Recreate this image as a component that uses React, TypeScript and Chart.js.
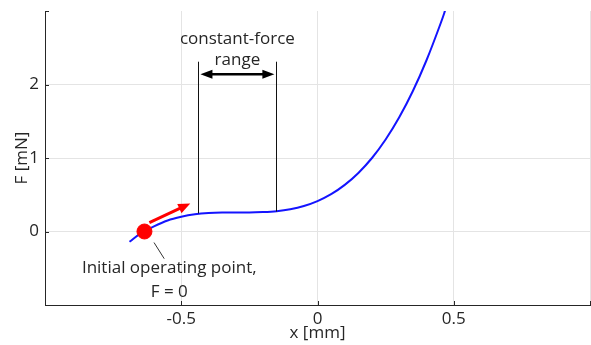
import React, { useEffect, useRef } from "react";
import { Chart, registerables } from "chart.js";

Chart.register(...registerables);

const curveX = [-0.69, -0.65, -0.6, -0.55, -0.5, -0.45, -0.4, -0.35, -0.3, -0.25, -0.2, -0.15, -0.1, -0.05, 0, 0.05, 0.1, 0.15, 0.2, 0.25, 0.3, 0.35, 0.4, 0.45, 0.465, 0.47];
const curveF = [-0.14, -0.03, 0.07, 0.15, 0.2, 0.234, 0.252, 0.259, 0.26, 0.26, 0.265, 0.277, 0.303, 0.347, 0.414, 0.508, 0.634, 0.797, 1.0, 1.252, 1.554, 1.911, 2.33, 2.813, 2.97, 3.03];

const operatingPoint = { x: -0.635, y: 0 };
const rangeStart = -0.437;
const rangeEnd = -0.151;
const rangeStartF = 0.245;
const rangeEndF = 0.272;
const rangeTopF = 2.31;
const rangeArrowF = 2.14;
const rangeLabel = ["constant-force", "range"];
const rangeLabelF = [2.62, 2.33];
const pointLabel = ["Initial operating point,", "F = 0"];
const pointLabelX = -0.544;
const pointLabelF = [-0.5, -0.82];
const leader = { x1: -0.6, y1: -0.15, x2: -0.5625, y2: -0.37 };
const redArrow = { x1: -0.617, y1: 0.12, x2: -0.467, y2: 0.38 };

const xTicks = [-1, -0.5, 0, 0.5, 1];
const yTicks = [-1, 0, 1, 2, 3];
const xTitle = "x [mm]";
const yTitle = "F [mN]";

const FONT = "'Open Sans', 'Noto Sans', sans-serif";
const TEXT = "#262626";
const FS = 17;

function arrowHead(ctx: CanvasRenderingContext2D, x1: number, y1: number, x2: number, y2: number, len: number, wid: number, color: string) {
  const a = Math.atan2(y2 - y1, x2 - x1);
  ctx.save();
  ctx.fillStyle = color;
  ctx.beginPath();
  ctx.moveTo(x2, y2);
  ctx.lineTo(x2 - len * Math.cos(a) + wid * Math.sin(a), y2 - len * Math.sin(a) - wid * Math.cos(a));
  ctx.lineTo(x2 - len * Math.cos(a) - wid * Math.sin(a), y2 - len * Math.sin(a) + wid * Math.cos(a));
  ctx.closePath();
  ctx.fill();
  ctx.restore();
}

const annotPlugin = {
  id: "annot",
  afterDraw(chart: any) {
    const ctx: CanvasRenderingContext2D = chart.ctx;
    const xs = chart.scales.x;
    const ys = chart.scales.y;
    const ca = chart.chartArea;
    const px = (v: number) => xs.getPixelForValue(v);
    const py = (v: number) => ys.getPixelForValue(v);
    ctx.save();
    ctx.strokeStyle = TEXT;
    ctx.lineWidth = 1;
    xTicks.forEach((t) => {
      const x = Math.round(px(t)) + 0.5;
      ctx.beginPath();
      ctx.moveTo(x, ca.bottom);
      ctx.lineTo(x, ca.bottom - 4);
      ctx.stroke();
    });
    yTicks.forEach((t) => {
      const y = Math.round(py(t)) + 0.5;
      ctx.beginPath();
      ctx.moveTo(ca.left, y);
      ctx.lineTo(ca.left + 4, y);
      ctx.stroke();
    });
    ctx.strokeStyle = "#111";
    ctx.lineWidth = 1;
    [[rangeStart, rangeStartF], [rangeEnd, rangeEndF]].forEach(([xv, fv]) => {
      const x = Math.round(px(xv)) + 0.5;
      ctx.beginPath();
      ctx.moveTo(x, py(fv));
      ctx.lineTo(x, py(rangeTopF));
      ctx.stroke();
    });
    const ay = py(rangeArrowF);
    const ax1 = px(rangeStart) + 2;
    const ax2 = px(rangeEnd) - 2;
    ctx.strokeStyle = "#000";
    ctx.lineWidth = 2.5;
    ctx.beginPath();
    ctx.moveTo(ax1 + 8, ay);
    ctx.lineTo(ax2 - 8, ay);
    ctx.stroke();
    arrowHead(ctx, ax2, ay, ax1, ay, 12, 4.5, "#000");
    arrowHead(ctx, ax1, ay, ax2, ay, 12, 4.5, "#000");
    ctx.fillStyle = TEXT;
    ctx.font = `${FS}px ${FONT}`;
    ctx.textAlign = "center";
    ctx.textBaseline = "middle";
    const cx = (px(rangeStart) + px(rangeEnd)) / 2;
    rangeLabel.forEach((s, i) => ctx.fillText(s, cx, py(rangeLabelF[i])));
    const rx1 = px(redArrow.x1), ry1 = py(redArrow.y1), rx2 = px(redArrow.x2), ry2 = py(redArrow.y2);
    const ang = Math.atan2(ry2 - ry1, rx2 - rx1);
    ctx.strokeStyle = "#ff0000";
    ctx.lineWidth = 3;
    ctx.beginPath();
    ctx.moveTo(rx1, ry1);
    ctx.lineTo(rx2 - 8 * Math.cos(ang), ry2 - 8 * Math.sin(ang));
    ctx.stroke();
    arrowHead(ctx, rx1, ry1, rx2, ry2, 12, 5, "#ff0000");
    ctx.strokeStyle = "#333";
    ctx.lineWidth = 1;
    ctx.beginPath();
    ctx.moveTo(px(leader.x1), py(leader.y1));
    ctx.lineTo(px(leader.x2), py(leader.y2));
    ctx.stroke();
    ctx.fillStyle = TEXT;
    pointLabel.forEach((s, i) => ctx.fillText(s, px(pointLabelX), py(pointLabelF[i])));
    ctx.fillText(xTitle, (ca.left + ca.right) / 2, 333);
    ctx.translate(22, (ca.top + ca.bottom) / 2);
    ctx.rotate(-Math.PI / 2);
    ctx.fillText(yTitle, 0, 0);
    ctx.restore();
  },
};

export default function App() {
  const ref = useRef<HTMLCanvasElement | null>(null);
  useEffect(() => {
    if (!ref.current) return;
    const curve = curveX.map((x, i) => ({ x, y: curveF[i] }));
    const chart = new Chart(ref.current, {
      type: "scatter",
      data: {
        datasets: [
          {
            data: [operatingPoint],
            pointRadius: 7.5,
            pointBackgroundColor: "#ff0000",
            pointBorderColor: "#ff0000",
            showLine: false,
          },
          {
            data: curve,
            showLine: true,
            borderColor: "#1414ff",
            borderWidth: 2,
            pointRadius: 0,
            cubicInterpolationMode: "monotone",
          },
        ],
      },
      options: {
        responsive: false,
        animation: false,
        events: [],
        layout: { autoPadding: false, padding: { top: 11, right: 1, left: 0, bottom: 0 } },
        plugins: { legend: { display: false }, tooltip: { enabled: false } },
        scales: {
          x: {
            type: "linear",
            min: -1,
            max: 1,
            afterBuildTicks: (s: any) => { s.ticks = xTicks.map((v) => ({ value: v })); },
            afterFit: (s: any) => { s.height = 40; s.paddingLeft = 0; s.paddingRight = 0; s.paddingTop = 0; s.paddingBottom = 0; },
            ticks: {
              padding: 4,
              color: TEXT,
              font: { family: FONT, size: FS },
              callback: (v: any) => (v === -1 || v === 1 ? "" : String(v)),
              maxRotation: 0,
            },
            grid: { color: "#e4e4e4", drawTicks: false },
            border: { display: true, color: TEXT, width: 1 },
          },
          y: {
            type: "linear",
            min: -1,
            max: 3,
            afterBuildTicks: (s: any) => { s.ticks = yTicks.map((v) => ({ value: v })); },
            afterFit: (s: any) => { s.width = 45; s.paddingLeft = 0; s.paddingRight = 0; s.paddingTop = 0; s.paddingBottom = 0; },
            ticks: {
              padding: 6,
              color: TEXT,
              font: { family: FONT, size: FS },
              callback: (v: any) => (v === -1 || v === 3 ? "" : String(v)),
            },
            grid: {
              color: (c: any) => (c.tick && c.tick.value === 3 ? "rgba(0,0,0,0)" : "#e4e4e4"),
              drawTicks: false,
            },
            border: { display: true, color: TEXT, width: 1 },
          },
        },
      },
      plugins: [annotPlugin],
    } as any);
    return () => chart.destroy();
  }, []);
  return (
    <div style={{ position: "fixed", left: 0, top: 0, width: 591, height: 345, background: "#fff" }}>
      <canvas ref={ref} width={591} height={345} />
    </div>
  );
}
